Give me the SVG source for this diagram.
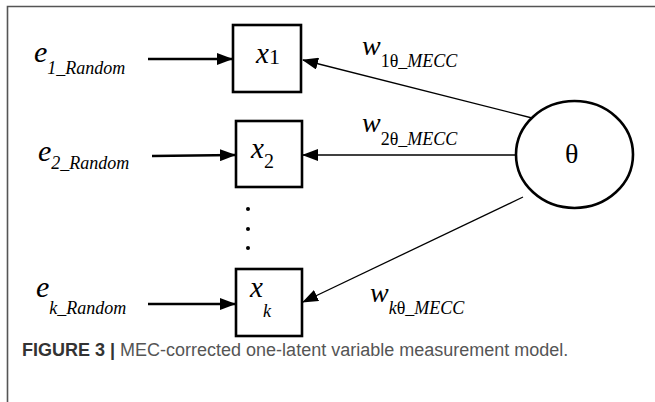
<svg xmlns="http://www.w3.org/2000/svg" width="655" height="402" viewBox="0 0 655 402">
<style>
.frame{stroke:#555;stroke-width:1.6;fill:none}
.box{fill:#fff;stroke:#000;stroke-width:2.6}
.err{stroke:#000;stroke-width:2.6;fill:none}
.load{stroke:#000;stroke-width:1.3;fill:none}
.m{font-family:"Liberation Serif","Times New Roman",serif;font-style:italic;fill:#000}
.u{font-family:"Liberation Serif","Times New Roman",serif;font-style:normal;fill:#000}
.cap{font-family:"Liberation Sans",Arial,sans-serif;font-size:18px;fill:#555}
.capb{font-weight:bold;fill:#333}
</style>
<defs>
<marker id="ah" markerWidth="16" markerHeight="12" refX="15" refY="6" orient="auto" markerUnits="userSpaceOnUse">
<path d="M0,0 L16,6 L0,12 Z" fill="#000"/>
</marker>
</defs>
<path class="frame" d="M7.5,402 V6.5 H655"/>
<g id="connectors">
<line class="err" x1="148" y1="59" x2="232" y2="59" marker-end="url(#ah)"/>
<line class="err" x1="152" y1="156" x2="235" y2="155" marker-end="url(#ah)"/>
<line class="err" x1="148" y1="304" x2="235" y2="304" marker-end="url(#ah)"/>
<line class="load" x1="532" y1="118" x2="303" y2="60" marker-end="url(#ah)"/>
<line class="load" x1="516" y1="155" x2="303" y2="155" marker-end="url(#ah)"/>
<line class="load" x1="523" y1="197" x2="303" y2="302" marker-end="url(#ah)"/>
</g>
<g id="e1"><text class="m" x="34" y="62" font-size="30">e<tspan font-size="18" dy="12">1_Random</tspan></text></g>
<g id="e2"><text class="m" x="38" y="161" font-size="30">e<tspan font-size="18" dy="8">2_Random</tspan></text></g>
<g id="ek"><text class="m" x="36" y="297" font-size="30">e<tspan font-size="18" dy="17">k_Random</tspan></text></g>
<g id="x1"><rect class="box" x="233" y="25" width="68" height="67"/><text class="m" x="256" y="63" font-size="29">x<tspan class="u" font-size="22" dy="1">1</tspan></text></g>
<g id="x2"><rect class="box" x="236" y="121" width="66" height="66"/><text class="m" x="251" y="158" font-size="29">x<tspan class="u" font-size="20" dy="10">2</tspan></text></g>
<g id="xk"><rect class="box" x="236" y="269" width="66" height="67"/><text class="m" x="250" y="297" font-size="29">x<tspan font-size="18" dy="20">k</tspan></text></g>
<g id="dots" fill="#000"><circle cx="248" cy="209" r="2"/><circle cx="248" cy="229" r="2"/><circle cx="248" cy="248" r="2"/></g>
<g id="theta"><ellipse cx="574.5" cy="154.5" rx="58.5" ry="53.5" fill="#fff" stroke="#000" stroke-width="2.6"/><text class="u" x="565" y="163" font-size="28">θ</text></g>
<g id="w1"><text class="m" x="362" y="55" font-size="28">w<tspan font-size="18" dy="12"><tspan class="u">1θ</tspan>_MECC</tspan></text></g>
<g id="w2"><text class="m" x="362" y="132" font-size="28">w<tspan font-size="18" dy="13"><tspan class="u">2θ</tspan>_MECC</tspan></text></g>
<g id="wk"><text class="m" x="370" y="302" font-size="28">w<tspan font-size="18" dy="12">k<tspan class="u">θ</tspan>_MECC</tspan></text></g>
<text class="cap" x="22" y="356"><tspan class="capb">FIGURE 3 |</tspan> MEC-corrected one-latent variable measurement model.</text>
</svg>
